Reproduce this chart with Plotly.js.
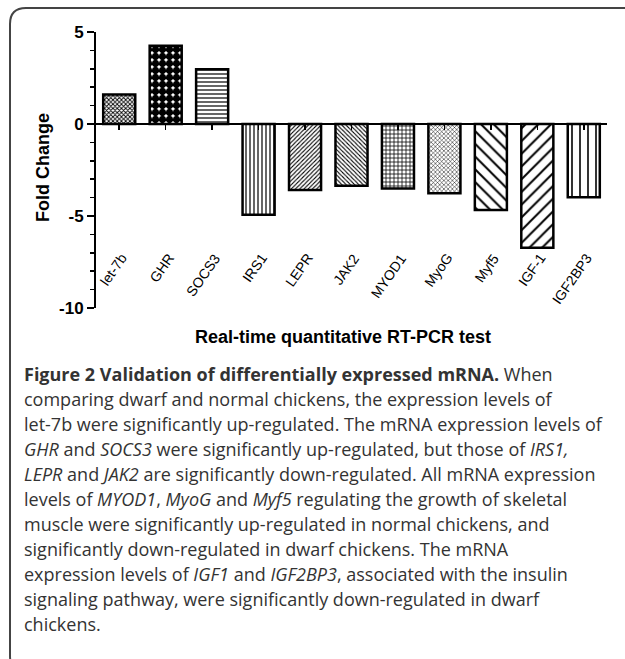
<!DOCTYPE html>
<html><head><meta charset="utf-8">
<script src="https://cdn.plot.ly/plotly-3.0.1.min.js"></script>
<style>html,body{margin:0;padding:0;background:#fff}#chart{width:625px;height:659px}</style>
</head><body><div id="chart"></div>
<script>
const genes = ["let-7b","GHR","SOCS3","IRS1","LEPR","JAK2","MYOD1","MyoG","Myf5","IGF-1","IGF2BP3"];
const foldChange = [1.6, 4.25, 2.97, -4.93, -3.59, -3.35, -3.5, -3.77, -4.67, -6.72, -3.98];
const yTickVals = [5, 0, -5, -10];
const yTickText = ["5", "0", "-5", "-10"];
const patternShapes = ["x", ".", "-", "|", "/", "\\", "+", "x", "\\", "/", "|"];
const patternSizes = [3, 7, 4, 4, 3, 3, 4, 3, 9, 9, 8];
const patternSolid = [0.5, 0.8, 0.3, 0.3, 0.35, 0.35, 0.35, 0.3, 0.22, 0.22, 0.2];
const captionLines = [
  "<b>Figure 2 Validation of differentially expressed mRNA.</b> When",
  "comparing dwarf and normal chickens, the expression levels of",
  "let-7b were significantly up-regulated. The mRNA expression levels of",
  "<i>GHR</i> and <i>SOCS3</i> were significantly up-regulated, but those of <i>IRS1,</i>",
  "<i>LEPR</i> and <i>JAK2</i> are significantly down-regulated. All mRNA expression",
  "levels of <i>MYOD1</i>, <i>MyoG</i> and <i>Myf5</i> regulating the growth of skeletal",
  "muscle were significantly up-regulated in normal chickens, and",
  "significantly down-regulated in dwarf chickens. The mRNA",
  "expression levels of <i>IGF1</i> and <i>IGF2BP3</i>, associated with the insulin",
  "signaling pathway, were significantly down-regulated in dwarf",
  "chickens."
];

// plot area in pixels
const L = 96, R = 607, T = 32, B = 308, W = 625, H = 659;
const px = x => (x - L) / (R - L);
const py = y => (B - y) / (B - T);

const axFont = {family: "Arial, 'Liberation Sans', sans-serif", color: "#000"};

const annotations = [];
genes.forEach(g => {
  annotations.push({xref: "x", yref: "y", x: g, y: -6.72, xshift: 14, text: g, showarrow: false,
    textangle: -55, xanchor: "right", yanchor: "top", font: Object.assign({size: 14}, axFont)});
});
annotations.push({xref: "paper", yref: "paper", x: px(43), y: py(168), text: "<b>Fold Change</b>", textangle: -90,
  showarrow: false, xanchor: "center", yanchor: "middle", font: Object.assign({size: 18}, axFont)});
annotations.push({xref: "paper", yref: "paper", x: px(343), y: py(337), text: "<b>Real-time quantitative RT-PCR test</b>",
  showarrow: false, xanchor: "center", yanchor: "middle", font: Object.assign({size: 18}, axFont)});
captionLines.forEach((t, i) => {
  annotations.push({xref: "paper", yref: "paper", x: px(22), y: py(374 + 25 * i), text: t, showarrow: false,
    xanchor: "left", yanchor: "middle", align: "left",
    font: {family: "'Open Sans', 'Noto Sans', sans-serif", size: 18, color: "#333"}});
});

// rounded border
const r = 16;
const x0 = px(10), x1 = px(640), y0 = py(8), y1 = py(672);
const rx = r / (R - L), ry = r / (B - T);
const borderPath = `M ${x0},${y1 + ry} L ${x0},${y0 - ry} Q ${x0},${y0} ${x0 + rx},${y0} L ${x1},${y0}` +
  ` M ${x0},${y1 + ry} Q ${x0},${y1} ${x0 + rx},${y1} L ${x1},${y1}`;

const data = [{
  type: "bar", x: genes, y: foldChange, width: 0.69,
  marker: {color: "#fff", line: {color: "#000", width: 2.5},
    pattern: {shape: patternShapes, size: patternSizes, solidity: patternSolid, fgcolor: "#000", bgcolor: "#fff", fillmode: "replace"}},
  hoverinfo: "x+y"
}];

const layout = {
  width: W, height: H, margin: {l: L, r: W - R, t: T, b: H - B},
  paper_bgcolor: "#fff", plot_bgcolor: "#fff", showlegend: false,
  xaxis: {type: "category", range: [-0.5, 10.5], anchor: "free", position: py(124),
    showline: true, linecolor: "#000", linewidth: 2, ticks: "outside", ticklen: 5, tickwidth: 1.5, tickcolor: "#000",
    showticklabels: false, showgrid: false, zeroline: false, fixedrange: true},
  yaxis: {range: [-10, 5], tickmode: "array", tickvals: yTickVals, ticktext: yTickText,
    showline: true, linecolor: "#000", linewidth: 2, ticks: "outside", ticklen: 7, tickwidth: 2, tickcolor: "#000",
    tickfont: Object.assign({size: 17, weight: "bold"}, axFont), showgrid: false, zeroline: false,
    minor: {tickmode: "linear", tick0: 0, dtick: 1, ticks: "outside", ticklen: 4, tickwidth: 1.5, tickcolor: "#000", showgrid: false},
    fixedrange: true},
  annotations: annotations,
  shapes: [{type: "path", xref: "paper", yref: "paper", path: borderPath, line: {color: "#444", width: 2}}]
};

Plotly.newPlot("chart", data, layout, {displayModeBar: false, staticPlot: true});
</script>
</body></html>
